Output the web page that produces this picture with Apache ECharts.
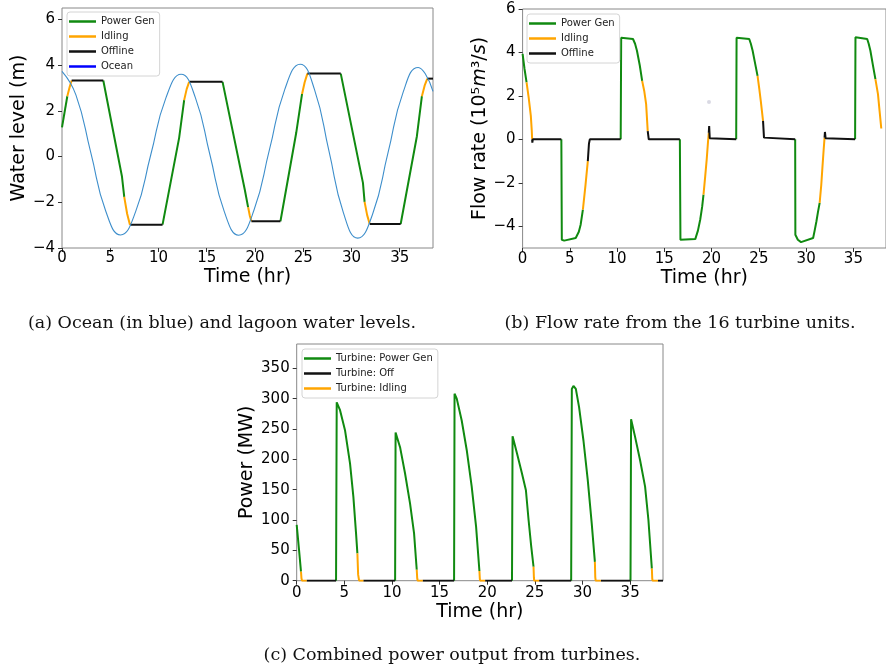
<!DOCTYPE html>
<html>
<head>
<meta charset="utf-8">
<script src="https://cdn.jsdelivr.net/npm/echarts@6/dist/echarts.min.js"></script>
<style>
  html, body { margin: 0; padding: 0; background: #fff; }
  #chart { width: 886px; height: 671px; }
</style>
</head>
<body>
<div id="chart"></div>
<script>
// tick values shared by the three panels
const timeTicks = [0, 5, 10, 15, 20, 25, 30, 35];
const levelTicks = [-4, -2, 0, 2, 4, 6];
const flowTicks = [-4, -2, 0, 2, 4, 6];
const powerTicks = [0, 50, 100, 150, 200, 250, 300, 350];

// (a) ocean level
const oceanTime = [0, 1.44, 2.99, 4.53, 6.07, 7.64, 9.2, 10.77, 12.34, 13.83, 15.33, 16.82, 18.31,
  19.9, 21.5, 23.09, 24.68, 26.17, 27.67, 29.16, 30.65, 32.22, 33.79, 35.35, 36.92, 37.65, 38.45];
const oceanLevel = [3.73, 2.7, 0.16, -2.38, -3.43, -2.4, 0.08, 2.57, 3.6, 2.57, 0.08, -2.41, -3.44,
  -2.34, 0.3, 2.94, 4.04, 2.93, 0.24, -2.45, -3.57, -2.48, 0.17, 2.81, 3.9, 3.62, 2.85];

// (a) lagoon level, one segment per operating state
const levelGen = [
  [[0, 1.28], [0.55, 2.64]],
  [[4.28, 3.33], [6.21, -0.86], [6.45, -1.76]],
  [[10.42, -2.98], [12.14, 0.82], [12.66, 2.47]],
  [[16.64, 3.27], [18.94, -1.44], [19.29, -2.22]],
  [[22.64, -2.83], [24.27, 1.03], [24.88, 2.74]],
  [[28.89, 3.63], [31.19, -1.15], [31.36, -1.98]],
  [[35.1, -2.95], [36.78, 0.89], [37.3, 2.64]]
];
const levelIdle = [
  [[0.55, 2.64], [0.8, 3.05], [1.0, 3.33]],
  [[6.45, -1.76], [6.75, -2.5], [7.04, -2.98]],
  [[12.66, 2.47], [12.92, 2.95], [13.18, 3.27]],
  [[19.29, -2.22], [19.47, -2.6], [19.63, -2.83]],
  [[24.88, 2.74], [25.15, 3.25], [25.43, 3.63]],
  [[31.36, -1.98], [31.62, -2.55], [31.89, -2.95]],
  [[37.3, 2.64], [37.58, 3.1], [37.86, 3.41]]
];
const levelOff = [
  [[1.0, 3.33], [4.28, 3.33]],
  [[7.04, -2.98], [10.42, -2.98]],
  [[13.18, 3.27], [16.64, 3.27]],
  [[19.63, -2.83], [22.64, -2.83]],
  [[25.43, 3.63], [28.89, 3.63]],
  [[31.89, -2.95], [35.1, -2.95]],
  [[37.86, 3.41], [38.45, 3.41]]
];

// (b) flow rate, 10^5 m3/s
const flowGen = [
  [[0, 3.93], [0.2, 3.25], [0.42, 2.62]],
  [[4.1, 0], [4.15, -4.62], [4.4, -4.66], [5.62, -4.54], [5.95, -4.25], [6.14, -3.93], [6.38, -3.23]],
  [[10.38, 0], [10.43, 4.68], [10.6, 4.7], [11.68, 4.62], [11.9, 4.4], [12.1, 4.08], [12.4, 3.4], [12.65, 2.69]],
  [[16.64, 0], [16.7, -4.62], [16.9, -4.66], [18.27, -4.59], [18.55, -4.2], [18.79, -3.7], [19.0, -3.1], [19.14, -2.54]],
  [[22.6, 0], [22.64, 4.68], [22.78, 4.7], [23.98, 4.62], [24.15, 4.4], [24.34, 4.08], [24.6, 3.5], [24.86, 2.92]],
  [[28.84, 0], [28.86, -4.39], [29.12, -4.62], [29.46, -4.73], [30.74, -4.54], [30.9, -4.2], [31.09, -3.77], [31.25, -3.35], [31.43, -2.92]],
  [[35.18, 0], [35.22, 4.7], [35.3, 4.74], [36.46, 4.62], [36.62, 4.4], [36.8, 4.08], [37.05, 3.45], [37.33, 2.77]]
];
const flowIdle = [
  [[0.42, 2.62], [0.65, 1.9], [0.87, 1.08], [0.97, 0.4], [1.01, 0]],
  [[6.38, -3.23], [6.66, -2.08], [6.9, -1.0]],
  [[12.65, 2.69], [12.88, 2.2], [13.07, 1.62], [13.24, 0.38]],
  [[19.14, -2.54], [19.32, -1.7], [19.48, -0.92], [19.62, -0.1], [19.7, 0.3]],
  [[24.86, 2.92], [25.05, 2.3], [25.2, 1.77], [25.44, 0.85]],
  [[31.43, -2.92], [31.6, -2.1], [31.72, -1.31], [31.85, -0.5], [31.95, 0.08]],
  [[37.33, 2.77], [37.6, 2.08], [37.77, 1.31], [37.95, 0.5]]
];
const flowOff = [
  [[1.01, 0], [1.03, -0.15], [1.08, 0], [4.1, 0]],
  [[6.9, -1.0], [7.02, -0.2], [7.11, 0], [10.38, 0]],
  [[13.24, 0.38], [13.35, 0], [16.64, 0]],
  [[19.7, 0.3], [19.74, 0.61], [19.8, 0.05], [19.86, 0], [22.6, 0]],
  [[25.44, 0.85], [25.54, 0.08], [25.6, 0], [28.84, 0]],
  [[31.95, 0.08], [31.99, 0.34], [32.06, 0.05], [32.13, 0], [35.18, 0]]
];
const flowDot = [[19.72, 1.72]];

// (c) combined power, MW
const powerGen = [
  [[0, 92], [0.06, 89], [0.25, 50], [0.45, 15]],
  [[4.13, 0], [4.2, 294], [4.55, 281], [5.07, 248], [5.6, 193], [5.95, 138], [6.23, 78], [6.37, 45]],
  [[10.33, 0], [10.38, 244], [10.43, 243], [10.85, 220], [11.37, 177], [11.9, 127], [12.32, 78], [12.6, 18]],
  [[16.52, 0], [16.57, 308], [16.8, 300], [17.32, 264], [17.85, 215], [18.37, 155], [18.83, 89], [19.18, 16]],
  [[22.6, 0], [22.66, 238], [23.12, 210], [23.64, 177], [24.06, 149], [24.34, 100], [24.62, 56], [24.86, 23]],
  [[28.81, 0], [28.88, 316], [29.05, 321], [29.3, 316], [29.64, 286], [30.1, 231], [30.55, 166], [30.97, 94], [31.3, 31]],
  [[35.04, 0], [35.1, 266], [35.52, 237], [36.05, 198], [36.57, 155], [36.92, 100], [37.28, 20]]
];
const powerIdle = [
  [[0.45, 15], [0.5, 4], [0.56, 0], [1.05, 0]],
  [[6.37, 45], [6.45, 10], [6.55, 0], [7.0, 0]],
  [[12.6, 18], [12.65, 4], [12.7, 0], [13.23, 0]],
  [[19.18, 16], [19.22, 4], [19.25, 0], [19.78, 0]],
  [[24.86, 23], [24.9, 5], [24.93, 0], [25.45, 0]],
  [[31.3, 31], [31.34, 6], [31.38, 0], [31.93, 0]],
  [[37.28, 20], [37.32, 4], [37.35, 0], [37.92, 0]]
];
const powerOff = [
  [[1.05, 0], [4.13, 0]],
  [[7.0, 0], [10.33, 0]],
  [[13.23, 0], [16.52, 0]],
  [[19.78, 0], [22.6, 0]],
  [[25.45, 0], [28.81, 0]],
  [[31.93, 0], [35.04, 0]],
  [[37.92, 0], [38.45, 0]]
];

const GREEN = '#108a10';
const ORANGE = '#ffa500';
const BLACK = '#111111';
const OCEAN = '#3d8ecb';
const FONT = 'DejaVu Sans';

const minus = v => String(v).replace('-', '\u2212');

function xAxisFor(gi, labelMargin, nameGap) {
  return {
    type: 'value', gridIndex: gi, min: 0, max: 38.45,
    name: 'Time (hr)', nameLocation: 'middle', nameGap: nameGap,
    nameTextStyle: { fontFamily: FONT, fontSize: 19, color: '#000' },
    axisLine: { show: false, onZero: false },
    axisTick: { customValues: timeTicks, length: 4, lineStyle: { color: '#333' } },
    axisLabel: { customValues: timeTicks, margin: labelMargin, fontFamily: FONT, fontSize: 15, color: '#000', formatter: minus },
    splitLine: { show: false }
  };
}

function yAxisFor(gi, min, max, ticks, name, nameGap, rich) {
  return {
    type: 'value', gridIndex: gi, min: min, max: max,
    name: name, nameLocation: 'middle', nameGap: nameGap,
    nameTextStyle: { fontFamily: FONT, fontSize: 19, color: '#000', rich: rich },
    axisLine: { show: false, onZero: false },
    axisTick: { customValues: ticks, length: 4, lineStyle: { color: '#333' } },
    axisLabel: { customValues: ticks, margin: 7, fontFamily: FONT, fontSize: 15, color: '#000', formatter: minus },
    splitLine: { show: false }
  };
}

function legendFor(left, top, names) {
  return {
    left: left, top: top, orient: 'vertical', data: names,
    icon: 'rect', itemWidth: 27, itemHeight: 2.5, itemGap: 2, itemTextGap: 4,
    padding: [3, 5, 3, 2],
    backgroundColor: 'rgba(255,255,255,0.85)', borderColor: '#d4d4d4', borderWidth: 1, borderRadius: 3,
    textStyle: { fontFamily: FONT, fontSize: 10, color: '#222', lineHeight: 13 },
    selectedMode: false
  };
}

const series = [];
function addSegments(segs, name, color, width, gi) {
  segs.forEach(seg => {
    series.push({
      type: 'line', name: name, xAxisIndex: gi, yAxisIndex: gi, data: seg,
      symbol: 'none', silent: true, animation: false,
      lineStyle: { color: color, width: width }, itemStyle: { color: color }
    });
  });
}

addSegments(levelGen, 'Power Gen', GREEN, 2, 0);
addSegments(levelIdle, 'Idling', ORANGE, 2, 0);
addSegments(levelOff, 'Offline', BLACK, 2, 0);
series.push({
  type: 'line', name: 'Ocean', xAxisIndex: 0, yAxisIndex: 0, smooth: 0.5,
  data: oceanTime.map((t, i) => [t, oceanLevel[i]]),
  symbol: 'none', silent: true, animation: false,
  lineStyle: { color: OCEAN, width: 1.1 }, itemStyle: { color: '#0000ff' }
});

addSegments(flowGen, 'Power Gen', GREEN, 2, 1);
addSegments(flowIdle, 'Idling', ORANGE, 2, 1);
addSegments(flowOff, 'Offline', BLACK, 2, 1);
series.push({
  type: 'scatter', xAxisIndex: 1, yAxisIndex: 1, data: flowDot, symbolSize: 4,
  silent: true, animation: false, itemStyle: { color: '#d0d0dc' }
});

addSegments(powerGen, 'Turbine: Power Gen', GREEN, 2, 2);
addSegments(powerOff, 'Turbine: Off', BLACK, 2, 2);
addSegments(powerIdle, 'Turbine: Idling', ORANGE, 2, 2);

const captionStyle = { fontFamily: 'DejaVu Serif', fontSize: 17.5, fill: '#111', textAlign: 'center', textVerticalAlign: 'middle' };

const chart = echarts.init(document.getElementById('chart'), null, { renderer: 'canvas' });
chart.setOption({
  backgroundColor: '#fff',
  animation: false,
  grid: [
    { left: 62, top: 8, width: 371, height: 240, show: true, borderColor: '#888', borderWidth: 1, backgroundColor: '#fff' },
    { left: 522.6, top: 9, width: 370, height: 239, show: true, borderColor: '#888', borderWidth: 1, backgroundColor: '#fff' },
    { left: 296.7, top: 344, width: 366.3, height: 236.7, show: true, borderColor: '#888', borderWidth: 1, backgroundColor: '#fff' }
  ],
  xAxis: [xAxisFor(0, 3, 20), xAxisFor(1, 4, 21), xAxisFor(2, 5, 22)],
  yAxis: [
    yAxisFor(0, -4, 6.5, levelTicks, 'Water level (m)', 29),
    yAxisFor(1, -5, 6, flowTicks, 'Flow rate (10\u2075{i|m}\u00b3/{i|s})', 31,
      { i: { fontFamily: FONT, fontSize: 19, fontStyle: 'italic', color: '#000' } }),
    yAxisFor(2, 0, 390, powerTicks, 'Power (MW)', 40)
  ],
  legend: [
    legendFor(67, 12, ['Power Gen', 'Idling', 'Offline', 'Ocean']),
    legendFor(527, 14, ['Power Gen', 'Idling', 'Offline']),
    legendFor(302, 349, ['Turbine: Power Gen', 'Turbine: Off', 'Turbine: Idling'])
  ],
  series: series,
  graphic: [
    { type: 'text', x: 222, y: 323, style: Object.assign({ text: '(a) Ocean (in blue) and lagoon water levels.' }, captionStyle) },
    { type: 'text', x: 680, y: 323, style: Object.assign({ text: '(b) Flow rate from the 16 turbine units.' }, captionStyle) },
    { type: 'text', x: 452, y: 655, style: Object.assign({ text: '(c) Combined power output from turbines.' }, captionStyle) }
  ]
});
</script>
</body>
</html>
